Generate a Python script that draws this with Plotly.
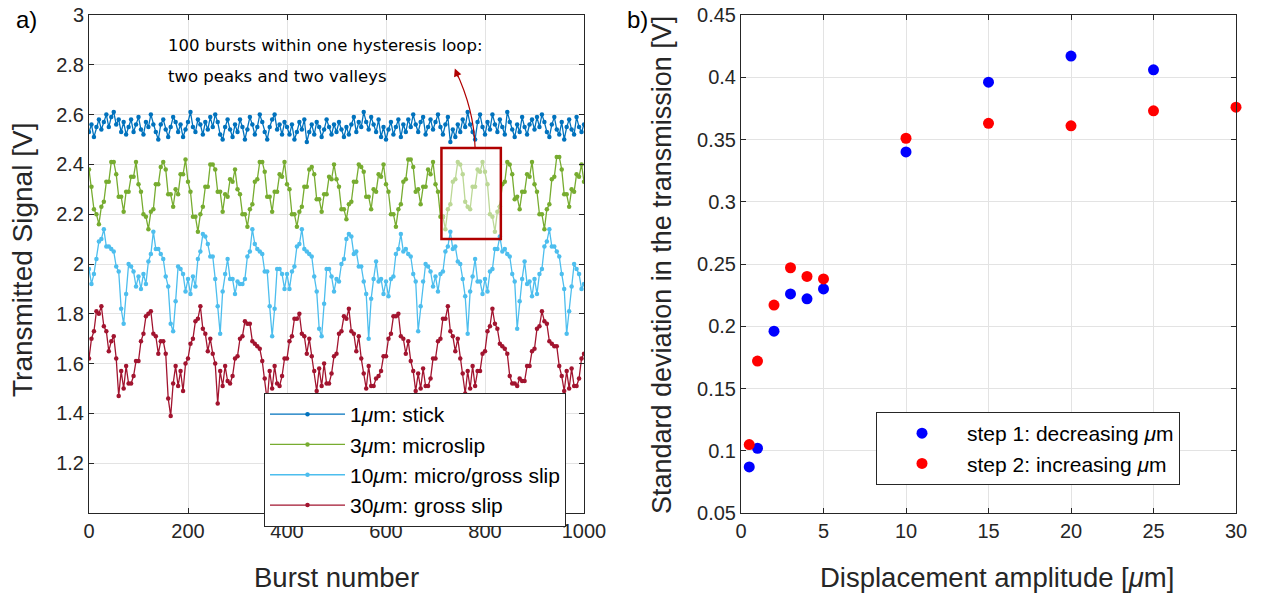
import plotly.graph_objects as go

# ---------------- data: left panel (sampled every 5 bursts) ----------------
burst_step = 5
sig_1um = [
    2.53, 2.56, 2.51, 2.55, 2.58, 2.54, 2.57, 2.60, 2.55, 2.59, 2.61, 2.56, 2.58, 2.53, 2.57, 2.52, 2.55, 2.58, 2.53, 2.56,
    2.59, 2.54, 2.52, 2.57, 2.55, 2.60, 2.56, 2.53, 2.50, 2.56, 2.58, 2.54, 2.51, 2.55, 2.59, 2.57, 2.53, 2.56, 2.51, 2.54,
    2.57, 2.61, 2.55, 2.53, 2.58, 2.56, 2.52, 2.57, 2.54, 2.59, 2.55, 2.60, 2.57, 2.52, 2.50, 2.55, 2.58, 2.54, 2.51, 2.56,
    2.53, 2.58, 2.55, 2.50, 2.54, 2.59, 2.56, 2.52, 2.55, 2.60, 2.57, 2.53, 2.50, 2.55, 2.58, 2.60, 2.54, 2.56, 2.52, 2.57,
    2.55, 2.52, 2.56, 2.50, 2.53, 2.57, 2.54, 2.58, 2.49, 2.53, 2.56, 2.52, 2.57, 2.55, 2.51, 2.54, 2.58, 2.55, 2.52, 2.56,
    2.53, 2.57, 2.54, 2.51, 2.55, 2.52, 2.56, 2.59, 2.53, 2.57, 2.55, 2.61, 2.57, 2.54, 2.59, 2.56, 2.53, 2.58, 2.51, 2.55,
    2.50, 2.54, 2.57, 2.52, 2.55, 2.58, 2.51, 2.56, 2.53, 2.58, 2.55, 2.60, 2.56, 2.53, 2.57, 2.59, 2.52, 2.55, 2.58, 2.54,
    2.57, 2.60, 2.55, 2.52, 2.56, 2.59, 2.49, 2.54, 2.51, 2.56, 2.53, 2.58, 2.55, 2.61, 2.56, 2.53, 2.50, 2.57, 2.60, 2.55,
    2.52, 2.57, 2.54, 2.60, 2.56, 2.53, 2.58, 2.55, 2.52, 2.61, 2.57, 2.54, 2.51, 2.56, 2.53, 2.59, 2.55, 2.52, 2.56, 2.58,
    2.54, 2.59, 2.55, 2.60, 2.57, 2.53, 2.51, 2.56, 2.59, 2.54, 2.52, 2.57, 2.50, 2.55, 2.58, 2.54, 2.52, 2.59, 2.55, 2.53,
    2.56,
]
sig_3um = [
    2.38, 2.31, 2.22, 2.20, 2.16, 2.23, 2.25, 2.33, 2.33, 2.41, 2.41, 2.36, 2.27, 2.27, 2.21, 2.29, 2.29, 2.35, 2.35, 2.41,
    2.32, 2.29, 2.20, 2.19, 2.14, 2.21, 2.22, 2.32, 2.32, 2.39, 2.41, 2.38, 2.28, 2.28, 2.23, 2.30, 2.28, 2.36, 2.36, 2.42,
    2.33, 2.29, 2.19, 2.19, 2.13, 2.20, 2.23, 2.31, 2.31, 2.40, 2.40, 2.38, 2.29, 2.29, 2.21, 2.28, 2.27, 2.34, 2.33, 2.38,
    2.30, 2.28, 2.20, 2.20, 2.15, 2.22, 2.24, 2.33, 2.34, 2.41, 2.41, 2.37, 2.27, 2.27, 2.21, 2.29, 2.29, 2.36, 2.35, 2.41,
    2.32, 2.30, 2.20, 2.20, 2.15, 2.21, 2.23, 2.31, 2.31, 2.38, 2.39, 2.36, 2.26, 2.26, 2.21, 2.28, 2.28, 2.35, 2.34, 2.40,
    2.34, 2.31, 2.22, 2.22, 2.18, 2.24, 2.25, 2.33, 2.33, 2.40, 2.39, 2.37, 2.27, 2.27, 2.22, 2.30, 2.29, 2.36, 2.35, 2.40,
    2.32, 2.29, 2.20, 2.20, 2.15, 2.22, 2.24, 2.33, 2.34, 2.42, 2.42, 2.39, 2.29, 2.30, 2.24, 2.31, 2.31, 2.38, 2.36, 2.41,
    2.32, 2.29, 2.19, 2.19, 2.14, 2.22, 2.24, 2.33, 2.34, 2.41, 2.40, 2.36, 2.25, 2.23, 2.22, 2.31, 2.31, 2.38, 2.37, 2.41,
    2.37, 2.32, 2.20, 2.19, 2.13, 2.21, 2.23, 2.32, 2.33, 2.41, 2.40, 2.36, 2.26, 2.27, 2.22, 2.29, 2.29, 2.36, 2.35, 2.41,
    2.32, 2.29, 2.20, 2.20, 2.14, 2.22, 2.24, 2.34, 2.35, 2.43, 2.43, 2.38, 2.28, 2.28, 2.23, 2.30, 2.29, 2.36, 2.35, 2.40,
    2.33,
]
sig_10um = [
    1.98, 1.92, 1.96, 2.02, 2.09, 2.10, 2.14, 2.07, 2.07, 2.06, 2.05, 1.99, 1.97, 1.82, 1.76, 1.88, 2.00, 1.99, 1.97, 1.91,
    1.95, 1.90, 1.96, 1.92, 2.01, 2.04, 2.13, 2.06, 2.06, 2.04, 2.02, 1.95, 1.91, 1.76, 1.73, 1.85, 1.99, 1.98, 1.96, 1.89,
    1.94, 1.88, 1.95, 1.91, 2.02, 2.05, 2.12, 2.11, 2.08, 2.03, 2.03, 1.94, 1.83, 1.72, 1.89, 1.96, 2.02, 1.94, 1.94, 1.88,
    1.93, 1.92, 1.92, 1.94, 2.03, 2.05, 2.14, 2.08, 2.06, 2.05, 2.04, 1.97, 1.97, 1.83, 1.71, 1.82, 1.98, 1.98, 1.96, 1.90,
    1.96, 1.90, 1.97, 1.99, 2.07, 2.08, 2.14, 2.06, 2.05, 2.04, 2.03, 1.95, 1.89, 1.74, 1.71, 1.84, 1.98, 1.98, 1.95, 1.89,
    1.94, 1.93, 2.00, 2.02, 2.10, 2.12, 2.11, 2.04, 2.05, 1.99, 1.99, 1.93, 1.88, 1.70, 1.86, 1.94, 2.01, 1.93, 1.94, 1.88,
    1.93, 1.87, 1.94, 1.95, 2.04, 2.06, 2.12, 2.05, 2.06, 2.04, 2.03, 1.96, 1.93, 1.73, 1.83, 1.93, 2.00, 1.99, 1.97, 1.91,
    1.95, 1.89, 1.96, 1.97, 2.05, 2.07, 2.13, 2.06, 2.07, 2.01, 2.00, 1.94, 1.87, 1.72, 1.89, 1.95, 2.02, 1.93, 1.93, 1.88,
    1.94, 1.89, 1.97, 1.98, 2.06, 2.06, 2.11, 2.05, 2.06, 2.04, 2.03, 1.96, 1.93, 1.74, 1.85, 1.94, 2.01, 1.92, 1.93, 1.87,
    1.94, 1.88, 1.96, 1.98, 2.07, 2.09, 2.14, 2.07, 2.07, 2.05, 2.03, 1.96, 1.90, 1.72, 1.81, 1.91, 2.00, 1.98, 1.96, 1.90,
    1.92,
]
sig_30um = [
    1.62, 1.70, 1.73, 1.81, 1.80, 1.83, 1.75, 1.73, 1.65, 1.69, 1.71, 1.62, 1.47, 1.57, 1.50, 1.59, 1.52, 1.52, 1.55, 1.61,
    1.61, 1.69, 1.72, 1.79, 1.80, 1.81, 1.72, 1.71, 1.64, 1.69, 1.69, 1.64, 1.46, 1.39, 1.52, 1.59, 1.51, 1.57, 1.49, 1.60,
    1.62, 1.68, 1.70, 1.77, 1.78, 1.83, 1.74, 1.72, 1.65, 1.70, 1.64, 1.60, 1.44, 1.57, 1.51, 1.59, 1.53, 1.52, 1.55, 1.62,
    1.63, 1.70, 1.71, 1.77, 1.76, 1.76, 1.69, 1.68, 1.67, 1.66, 1.61, 1.54, 1.45, 1.57, 1.50, 1.59, 1.52, 1.51, 1.55, 1.62,
    1.62, 1.69, 1.71, 1.78, 1.78, 1.80, 1.72, 1.71, 1.64, 1.70, 1.63, 1.57, 1.49, 1.58, 1.51, 1.60, 1.52, 1.52, 1.56, 1.63,
    1.64, 1.72, 1.73, 1.79, 1.78, 1.82, 1.73, 1.72, 1.65, 1.71, 1.62, 1.56, 1.50, 1.59, 1.51, 1.51, 1.54, 1.55, 1.57, 1.63,
    1.63, 1.70, 1.72, 1.79, 1.79, 1.80, 1.71, 1.70, 1.64, 1.69, 1.61, 1.57, 1.49, 1.56, 1.50, 1.58, 1.51, 1.51, 1.54, 1.62,
    1.62, 1.69, 1.70, 1.78, 1.78, 1.83, 1.73, 1.71, 1.65, 1.70, 1.62, 1.56, 1.48, 1.57, 1.50, 1.59, 1.51, 1.57, 1.57, 1.64,
    1.65, 1.73, 1.75, 1.82, 1.76, 1.74, 1.68, 1.67, 1.66, 1.64, 1.55, 1.52, 1.52, 1.51, 1.54, 1.53, 1.53, 1.59, 1.59, 1.65,
    1.66, 1.74, 1.75, 1.81, 1.77, 1.76, 1.69, 1.68, 1.67, 1.67, 1.59, 1.55, 1.49, 1.57, 1.50, 1.58, 1.51, 1.51, 1.54, 1.62,
    1.64,
]
bursts = [i * burst_step for i in range(len(sig_1um))]
highlight_range = (715, 830)   # one hysteresis loop highlighted
box_x = (712, 832)
box_y = (2.10, 2.466)

series_names = ["1<i>μ</i>m: stick", "3<i>μ</i>m: microslip",
                "10<i>μ</i>m: micro/gross slip", "30<i>μ</i>m: gross slip"]
series_colors = ["#0072BD", "#77AC30", "#4DBEEE", "#A2142F"]
highlight_color = "#BCD896"

left_yticks = [1.2, 1.4, 1.6, 1.8, 2.0, 2.2, 2.4, 2.6, 2.8, 3.0]
left_yticklabels = ["1.2", "1.4", "1.6", "1.8", "2", "2.2", "2.4", "2.6", "2.8", "3"]
left_xticks = [0, 200, 400, 600, 800, 1000]

# ---------------- data: right panel ----------------
amp_step1 = [0.5, 1, 2, 3, 4, 5, 10, 15, 20, 25]
std_step1 = [0.087, 0.102, 0.196, 0.226, 0.222, 0.230, 0.340, 0.396, 0.417, 0.406]
amp_step2 = [0.5, 1, 2, 3, 4, 5, 10, 15, 20, 25, 30]
std_step2 = [0.105, 0.172, 0.217, 0.247, 0.240, 0.238, 0.351, 0.363, 0.361, 0.373, 0.376]
right_yticks = [0.05, 0.1, 0.15, 0.2, 0.25, 0.3, 0.35, 0.4, 0.45]
right_yticklabels = ["0.05", "0.1", "0.15", "0.2", "0.25", "0.3", "0.35", "0.4", "0.45"]
right_xticks = [0, 5, 10, 15, 20, 25, 30]

# ---------------- figure ----------------
W, H = 1270, 595
FONT = "Liberation Sans"
TXT = "#262626"
GRID = "#E3E3E3"

def px_x(p):
    return p / W

def px_y(p):
    return 1 - p / H

fig = go.Figure()

sigs = [sig_1um, sig_3um, sig_10um, sig_30um]
for name, col, sig in zip(series_names, series_colors, sigs):
    if sig is sig_3um:
        ys = [v if not (highlight_range[0] < b < highlight_range[1]) else None
              for b, v in zip(bursts, sig)]
    else:
        ys = sig
    fig.add_trace(go.Scatter(
        x=bursts, y=ys, mode="lines+markers", name=name,
        line=dict(color=col, width=1.3), marker=dict(color=col, size=4.5),
        xaxis="x", yaxis="y", legend="legend", connectgaps=False))

hx = [b for b in bursts if highlight_range[0] <= b <= highlight_range[1]]
hy = [v for b, v in zip(bursts, sig_3um) if highlight_range[0] <= b <= highlight_range[1]]
fig.add_trace(go.Scatter(
    x=hx, y=hy, mode="lines+markers", showlegend=False,
    line=dict(color=highlight_color, width=1.3), marker=dict(color=highlight_color, size=4.5),
    xaxis="x", yaxis="y"))

fig.add_trace(go.Scatter(
    x=amp_step1, y=std_step1, mode="markers", name="step 1: decreasing <i>μ</i>m",
    marker=dict(color="#0000FF", size=11), xaxis="x2", yaxis="y2", legend="legend2",
    cliponaxis=False))
fig.add_trace(go.Scatter(
    x=amp_step2, y=std_step2, mode="markers", name="step 2: increasing <i>μ</i>m",
    marker=dict(color="#FF0000", size=11), xaxis="x2", yaxis="y2", legend="legend2",
    cliponaxis=False))

axis_common = dict(showline=True, linecolor=TXT, linewidth=1, mirror="ticks",
                   ticks="inside", ticklen=5, tickcolor=TXT, automargin=False,
                   ticklabeloverflow="allow",
                   showgrid=True, gridcolor=GRID, gridwidth=1, zeroline=False,
                   tickfont=dict(family=FONT, size=20, color=TXT))

fig.update_layout(
    width=W, height=H, margin=dict(l=0, r=0, t=0, b=0, pad=0),
    paper_bgcolor="white", plot_bgcolor="white",
    font=dict(family=FONT, color=TXT),
    xaxis=dict(domain=[px_x(89), px_x(584)], range=[0, 1000], tickvals=left_xticks,
               anchor="y", **axis_common),
    yaxis=dict(domain=[px_y(513), px_y(15)], range=[1.0, 3.0], tickvals=left_yticks,
               ticktext=left_yticklabels, anchor="x", **axis_common),
    xaxis2=dict(domain=[px_x(741), px_x(1236)], range=[0, 30], tickvals=right_xticks,
                anchor="y2", **axis_common),
    yaxis2=dict(domain=[px_y(513), px_y(15)], range=[0.05, 0.45], tickvals=right_yticks,
                ticktext=right_yticklabels, anchor="x2", **axis_common),
    legend=dict(x=px_x(264), y=px_y(393), xanchor="left", yanchor="top",
                bgcolor="white", bordercolor=TXT, borderwidth=1,
                font=dict(family=FONT, size=21, color="black"),
                itemwidth=75, tracegroupgap=0),
    legend2=dict(x=px_x(876), y=px_y(412), xanchor="left", yanchor="top",
                 bgcolor="white", bordercolor=TXT, borderwidth=1,
                 font=dict(family=FONT, size=21, color="black"),
                 itemwidth=80, tracegroupgap=0),
    showlegend=True,
)

# highlight box and curved arrow
fig.add_shape(type="rect", xref="x", yref="y", x0=box_x[0], x1=box_x[1],
              y0=box_y[0], y1=box_y[1], line=dict(color="#B00000", width=2.5))
fig.add_shape(type="path", xref="x", yref="y",
              path="M 780,2.466 Q 778,2.62 741,2.775",
              line=dict(color="#B00000", width=1.2))
fig.add_annotation(xref="x", yref="y", x=739, y=2.785, ax=4, ay=10, text="",
                   showarrow=True, arrowhead=2, arrowsize=1.3, arrowwidth=1.2,
                   arrowcolor="#B00000")
fig.add_annotation(xref="paper", yref="paper", x=px_x(166), y=px_y(46),
                   xanchor="left", yanchor="middle", showarrow=False,
                   text="100 bursts within one hysteresis loop:",
                   font=dict(family="DejaVu Sans", size=16.5, color="black"))
fig.add_annotation(xref="paper", yref="paper", x=px_x(166), y=px_y(76),
                   xanchor="left", yanchor="middle", showarrow=False,
                   text="two peaks and two valleys",
                   font=dict(family="DejaVu Sans", size=16.5, color="black"))

# panel labels and axis titles
for txt, x, y in [("a)", 26, 20), ("b)", 638, 20)]:
    fig.add_annotation(xref="paper", yref="paper", x=px_x(x), y=px_y(y),
                       xanchor="center", yanchor="middle", showarrow=False, text=txt,
                       font=dict(family=FONT, size=24, color="black"))
fig.add_annotation(xref="paper", yref="paper", x=px_x(336), y=px_y(577),
                   xanchor="center", yanchor="middle", showarrow=False,
                   text="Burst number", font=dict(family=FONT, size=27.5, color=TXT))
fig.add_annotation(xref="paper", yref="paper", x=px_x(997), y=px_y(577),
                   xanchor="center", yanchor="middle", showarrow=False,
                   text="Displacement amplitude [<i>μ</i>m]",
                   font=dict(family=FONT, size=27.5, color=TXT))
fig.add_annotation(xref="paper", yref="paper", x=px_x(22), y=px_y(260),
                   xanchor="center", yanchor="middle", showarrow=False, textangle=-90,
                   text="Transmitted Signal [V]", font=dict(family=FONT, size=28, color=TXT))
fig.add_annotation(xref="paper", yref="paper", x=px_x(662), y=px_y(265),
                   xanchor="center", yanchor="middle", showarrow=False, textangle=-90,
                   text="Standard deviation in the transmission [V]",
                   font=dict(family=FONT, size=27, color=TXT))

# remove the default page margin so the figure sits at the window origin
fig.write_html("out.html", config={"displayModeBar": False},
               post_script="document.body.style.margin='0';document.body.style.overflow='hidden';")
